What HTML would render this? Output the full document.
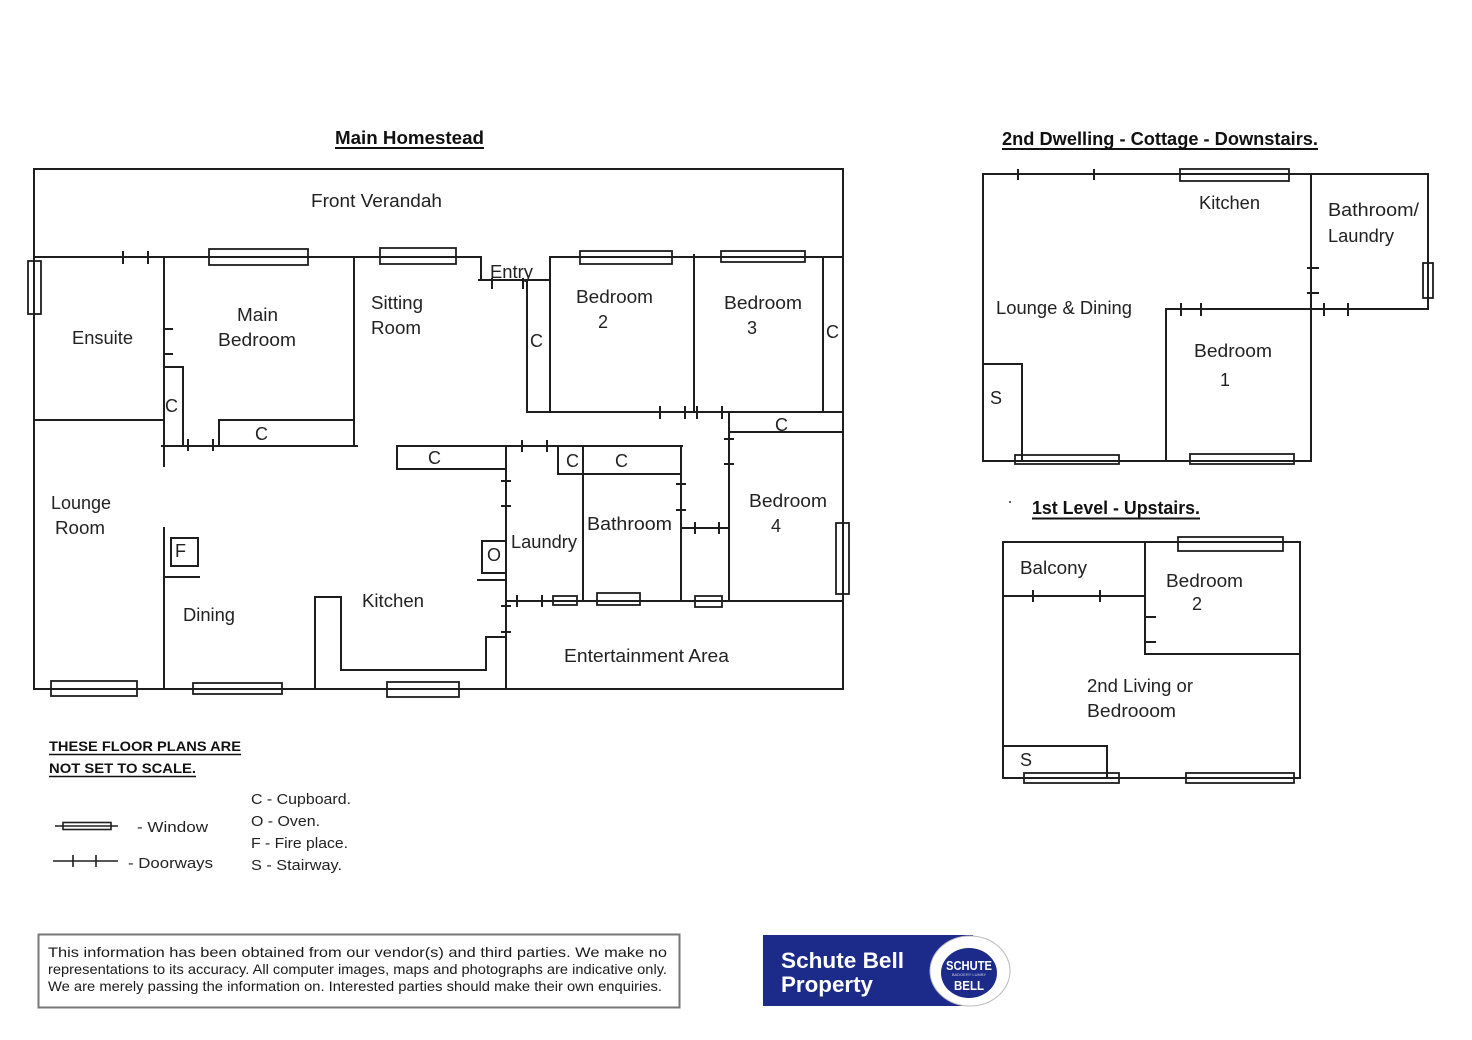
<!DOCTYPE html>
<html>
<head>
<meta charset="utf-8">
<style>
html,body{margin:0;padding:0;background:#fff;}
svg{display:block;}
.l{font-family:"Liberation Sans",sans-serif;font-size:18px;fill:#222;}
.b{font-family:"Liberation Sans",sans-serif;font-weight:bold;fill:#111;}
.s{font-family:"Liberation Sans",sans-serif;font-size:15px;fill:#222;}
.f{font-family:"Liberation Sans",sans-serif;font-size:14px;fill:#1a1a1a;}
</style>
</head>
<body>
<svg width="1472" height="1040" viewBox="0 0 1472 1040" xmlns="http://www.w3.org/2000/svg">
<rect width="1472" height="1040" fill="#fff"/>

<!-- ============ MAIN HOMESTEAD ============ -->
<text class="b" x="335" y="144" font-size="18" textLength="149" lengthAdjust="spacingAndGlyphs">Main Homestead</text>
<line x1="335" y1="148" x2="484" y2="148" stroke="#111" stroke-width="2"/>

<g stroke="#1e1e1e" stroke-width="2" fill="none" stroke-linecap="square">
  <rect x="34" y="169" width="809" height="520"/>
  <line x1="34" y1="257" x2="481" y2="257"/>
  <polyline points="481,257 481,280"/>
  <line x1="479" y1="280" x2="550" y2="280"/>
  <line x1="550" y1="257" x2="843" y2="257"/>
  <line x1="550" y1="257" x2="550" y2="412"/>
  <line x1="164" y1="257" x2="164" y2="466"/>
  <line x1="164" y1="528" x2="164" y2="689"/>
  <line x1="34" y1="420" x2="164" y2="420"/>
  <line x1="164" y1="329" x2="172" y2="329"/>
  <line x1="164" y1="354" x2="172" y2="354"/>
  <polyline points="164,367 183,367 183,446"/>
  <line x1="162" y1="446" x2="357" y2="446"/>
  <polyline points="219,446 219,420 354,420"/>
  <line x1="354" y1="257" x2="354" y2="446"/>
  <rect x="171" y="538" width="27" height="28"/>
  <line x1="164" y1="577" x2="199" y2="577"/>
  <line x1="397" y1="446" x2="682" y2="446"/>
  <polyline points="397,446 397,469 506,469"/>
  <line x1="506" y1="446" x2="506" y2="689"/>
  <rect x="482" y="541" width="24" height="32"/>
  <line x1="478" y1="580" x2="506" y2="580"/>
  <polyline points="315,689 315,597 341,597 341,670 486,670 486,637 506,637"/>
  <line x1="527" y1="280" x2="527" y2="412"/>
  <line x1="527" y1="412" x2="843" y2="412"/>
  <line x1="694" y1="255" x2="694" y2="412"/>
  <line x1="823" y1="257" x2="823" y2="412"/>
  <line x1="729" y1="412" x2="729" y2="601"/>
  <line x1="729" y1="432" x2="843" y2="432"/>
  <line x1="558" y1="446" x2="558" y2="474"/>
  <line x1="558" y1="474" x2="681" y2="474"/>
  <line x1="583" y1="446" x2="583" y2="601"/>
  <line x1="681" y1="446" x2="681" y2="601"/>
  <line x1="681" y1="528" x2="729" y2="528"/>
  <line x1="506" y1="601" x2="843" y2="601"/>
</g>

<g stroke="#1e1e1e" stroke-width="2">
  <line x1="123" y1="251" x2="123" y2="264"/>
  <line x1="148" y1="251" x2="148" y2="264"/>
  <line x1="492" y1="278" x2="492" y2="289"/>
  <line x1="523" y1="278" x2="523" y2="289"/>
  <line x1="188" y1="439" x2="188" y2="451"/>
  <line x1="213" y1="439" x2="213" y2="451"/>
  <line x1="660" y1="406" x2="660" y2="419"/>
  <line x1="685" y1="406" x2="685" y2="419"/>
  <line x1="697" y1="406" x2="697" y2="419"/>
  <line x1="722" y1="406" x2="722" y2="419"/>
  <line x1="724" y1="439" x2="734" y2="439"/>
  <line x1="724" y1="464" x2="734" y2="464"/>
  <line x1="522" y1="440" x2="522" y2="452"/>
  <line x1="547" y1="440" x2="547" y2="452"/>
  <line x1="676" y1="484" x2="686" y2="484"/>
  <line x1="676" y1="510" x2="686" y2="510"/>
  <line x1="695" y1="522" x2="695" y2="534"/>
  <line x1="719" y1="522" x2="719" y2="534"/>
  <line x1="501" y1="481" x2="511" y2="481"/>
  <line x1="501" y1="506" x2="511" y2="506"/>
  <line x1="501" y1="606" x2="511" y2="606"/>
  <line x1="501" y1="632" x2="511" y2="632"/>
  <line x1="517" y1="595" x2="517" y2="607"/>
  <line x1="542" y1="595" x2="542" y2="607"/>
</g>

<g stroke="#1e1e1e" stroke-width="1.8" fill="none">
  <rect x="28" y="261" width="13" height="53"/>
  <rect x="209" y="249" width="99" height="16"/>
  <rect x="380" y="248" width="76" height="16"/>
  <rect x="580" y="251" width="92" height="13"/>
  <rect x="721" y="251" width="84" height="11"/>
  <rect x="836" y="523" width="13" height="71"/>
  <rect x="553" y="596" width="24" height="9"/>
  <rect x="597" y="593" width="43" height="12"/>
  <rect x="695" y="596" width="27" height="11"/>
  <rect x="51" y="681" width="86" height="15"/>
  <rect x="193" y="683" width="89" height="11"/>
  <rect x="387" y="682" width="72" height="15"/>
</g>

<text class="l" x="311" y="207" textLength="131" lengthAdjust="spacingAndGlyphs">Front Verandah</text>
<text class="l" x="72" y="344" textLength="61" lengthAdjust="spacingAndGlyphs">Ensuite</text>
<text class="l" x="237" y="321" textLength="41" lengthAdjust="spacingAndGlyphs">Main</text>
<text class="l" x="218" y="346" textLength="78" lengthAdjust="spacingAndGlyphs">Bedroom</text>
<text class="l" x="371" y="309" textLength="52" lengthAdjust="spacingAndGlyphs">Sitting</text>
<text class="l" x="371" y="334" textLength="50" lengthAdjust="spacingAndGlyphs">Room</text>
<text class="l" x="490" y="278" textLength="43" lengthAdjust="spacingAndGlyphs">Entry</text>
<text class="l" x="576" y="303" textLength="77" lengthAdjust="spacingAndGlyphs">Bedroom</text>
<text class="l" x="598" y="328">2</text>
<text class="l" x="724" y="309" textLength="78" lengthAdjust="spacingAndGlyphs">Bedroom</text>
<text class="l" x="747" y="334">3</text>
<text class="l" x="826" y="338">C</text>
<text class="l" x="530" y="347">C</text>
<text class="l" x="775" y="431">C</text>
<text class="l" x="165" y="412">C</text>
<text class="l" x="255" y="440">C</text>
<text class="l" x="428" y="464">C</text>
<text class="l" x="566" y="467">C</text>
<text class="l" x="615" y="467">C</text>
<text class="l" x="51" y="509" textLength="60" lengthAdjust="spacingAndGlyphs">Lounge</text>
<text class="l" x="55" y="534" textLength="50" lengthAdjust="spacingAndGlyphs">Room</text>
<text class="l" x="175" y="557">F</text>
<text class="l" x="183" y="621" textLength="52" lengthAdjust="spacingAndGlyphs">Dining</text>
<text class="l" x="362" y="607" textLength="62" lengthAdjust="spacingAndGlyphs">Kitchen</text>
<text class="l" x="487" y="561">O</text>
<text class="l" x="511" y="548" textLength="66" lengthAdjust="spacingAndGlyphs">Laundry</text>
<text class="l" x="587" y="530" textLength="85" lengthAdjust="spacingAndGlyphs">Bathroom</text>
<text class="l" x="749" y="507" textLength="78" lengthAdjust="spacingAndGlyphs">Bedroom</text>
<text class="l" x="771" y="532">4</text>
<text class="l" x="564" y="662" textLength="165" lengthAdjust="spacingAndGlyphs">Entertainment Area</text>

<!-- ============ COTTAGE DOWNSTAIRS ============ -->
<text class="b" x="1002" y="145" font-size="18" textLength="316" lengthAdjust="spacingAndGlyphs">2nd Dwelling - Cottage - Downstairs.</text>
<line x1="1002" y1="149" x2="1318" y2="149" stroke="#111" stroke-width="2"/>

<g stroke="#1e1e1e" stroke-width="2" fill="none" stroke-linecap="square">
  <line x1="983" y1="174" x2="1428" y2="174"/>
  <line x1="1428" y1="174" x2="1428" y2="309"/>
  <line x1="1166" y1="309" x2="1428" y2="309"/>
  <line x1="1311" y1="174" x2="1311" y2="461"/>
  <line x1="983" y1="461" x2="1311" y2="461"/>
  <line x1="983" y1="174" x2="983" y2="461"/>
  <line x1="1166" y1="309" x2="1166" y2="461"/>
  <polyline points="983,364 1022,364 1022,461"/>
</g>
<g stroke="#1e1e1e" stroke-width="2">
  <line x1="1018" y1="169" x2="1018" y2="180"/>
  <line x1="1094" y1="169" x2="1094" y2="180"/>
  <line x1="1307" y1="268" x2="1319" y2="268"/>
  <line x1="1307" y1="293" x2="1319" y2="293"/>
  <line x1="1181" y1="303" x2="1181" y2="316"/>
  <line x1="1201" y1="303" x2="1201" y2="316"/>
  <line x1="1324" y1="303" x2="1324" y2="316"/>
  <line x1="1348" y1="303" x2="1348" y2="316"/>
</g>
<g stroke="#1e1e1e" stroke-width="1.8" fill="none">
  <rect x="1180" y="169" width="109" height="12"/>
  <rect x="1423" y="263" width="10" height="35"/>
  <rect x="1015" y="455" width="104" height="9"/>
  <rect x="1190" y="454" width="104" height="10"/>
</g>
<text class="l" x="1199" y="209" textLength="61" lengthAdjust="spacingAndGlyphs">Kitchen</text>
<text class="l" x="1328" y="216" textLength="91" lengthAdjust="spacingAndGlyphs">Bathroom/</text>
<text class="l" x="1328" y="242" textLength="66" lengthAdjust="spacingAndGlyphs">Laundry</text>
<text class="l" x="996" y="314" textLength="136" lengthAdjust="spacingAndGlyphs">Lounge &amp; Dining</text>
<text class="l" x="1194" y="357" textLength="78" lengthAdjust="spacingAndGlyphs">Bedroom</text>
<text class="l" x="1220" y="386">1</text>
<text class="l" x="990" y="404">S</text>

<!-- ============ UPSTAIRS ============ -->
<circle cx="1010" cy="502" r="1" fill="#333"/>
<text class="b" x="1032" y="514" font-size="18" textLength="168" lengthAdjust="spacingAndGlyphs">1st Level - Upstairs.</text>
<line x1="1032" y1="518.5" x2="1200" y2="518.5" stroke="#111" stroke-width="2"/>

<g stroke="#1e1e1e" stroke-width="2" fill="none" stroke-linecap="square">
  <rect x="1003" y="542" width="297" height="236"/>
  <line x1="1145" y1="542" x2="1145" y2="654"/>
  <line x1="1145" y1="654" x2="1300" y2="654"/>
  <line x1="1003" y1="596" x2="1145" y2="596"/>
  <line x1="1145" y1="617" x2="1155" y2="617"/>
  <line x1="1145" y1="642" x2="1155" y2="642"/>
  <polyline points="1003,746 1107,746 1107,778"/>
</g>
<g stroke="#1e1e1e" stroke-width="2">
  <line x1="1033" y1="590" x2="1033" y2="602"/>
  <line x1="1100" y1="590" x2="1100" y2="602"/>
</g>
<g stroke="#1e1e1e" stroke-width="1.8" fill="none">
  <rect x="1178" y="537" width="105" height="14"/>
  <rect x="1024" y="773" width="95" height="10"/>
  <rect x="1186" y="773" width="108" height="10"/>
</g>
<text class="l" x="1020" y="574" textLength="67" lengthAdjust="spacingAndGlyphs">Balcony</text>
<text class="l" x="1166" y="587" textLength="77" lengthAdjust="spacingAndGlyphs">Bedroom</text>
<text class="l" x="1192" y="610">2</text>
<text class="l" x="1087" y="692" textLength="106" lengthAdjust="spacingAndGlyphs">2nd Living or</text>
<text class="l" x="1087" y="717" textLength="89" lengthAdjust="spacingAndGlyphs">Bedrooom</text>
<text class="l" x="1020" y="766">S</text>

<!-- ============ LEGEND ============ -->
<text class="b" x="49" y="751" font-size="14" textLength="192" lengthAdjust="spacingAndGlyphs">THESE FLOOR PLANS ARE</text>
<line x1="49" y1="754.5" x2="241" y2="754.5" stroke="#111" stroke-width="1.6"/>
<text class="b" x="49" y="773" font-size="14" textLength="147" lengthAdjust="spacingAndGlyphs">NOT SET TO SCALE.</text>
<line x1="49" y1="776.5" x2="196" y2="776.5" stroke="#111" stroke-width="1.6"/>

<g stroke="#1e1e1e" stroke-width="1.6" fill="none">
  <line x1="55" y1="826" x2="118" y2="826"/>
  <rect x="63" y="822.5" width="48" height="7"/>
  <line x1="53" y1="861" x2="118" y2="861"/>
  <line x1="73" y1="855" x2="73" y2="867"/>
  <line x1="96" y1="855" x2="96" y2="867"/>
</g>
<text class="s" x="137" y="832" textLength="71" lengthAdjust="spacingAndGlyphs">- Window</text>
<text class="s" x="128" y="868" textLength="85" lengthAdjust="spacingAndGlyphs">- Doorways</text>
<text class="s" x="251" y="804" textLength="100" lengthAdjust="spacingAndGlyphs">C - Cupboard.</text>
<text class="s" x="251" y="826" textLength="69" lengthAdjust="spacingAndGlyphs">O - Oven.</text>
<text class="s" x="251" y="848" textLength="97" lengthAdjust="spacingAndGlyphs">F - Fire place.</text>
<text class="s" x="251" y="870" textLength="91" lengthAdjust="spacingAndGlyphs">S - Stairway.</text>

<!-- ============ FOOTER ============ -->
<rect x="38.5" y="934.5" width="641" height="73" fill="none" stroke="#777" stroke-width="2"/>
<text class="f" x="48" y="957" textLength="619" lengthAdjust="spacingAndGlyphs">This information has been obtained from our vendor(s) and third parties. We make no</text>
<text class="f" x="48" y="974" textLength="619" lengthAdjust="spacingAndGlyphs">representations to its accuracy. All computer images, maps and photographs are indicative only.</text>
<text class="f" x="48" y="991" textLength="614" lengthAdjust="spacingAndGlyphs">We are merely passing the information on. Interested parties should make their own enquiries.</text>

<!-- ============ LOGO ============ -->
<rect x="763" y="935" width="210" height="71" fill="#1c2b8a"/>
<text x="781" y="968" font-family="Liberation Sans, sans-serif" font-weight="bold" font-size="22" fill="#fff" textLength="123" lengthAdjust="spacingAndGlyphs">Schute Bell</text>
<text x="781" y="992" font-family="Liberation Sans, sans-serif" font-weight="bold" font-size="22" fill="#fff" textLength="92" lengthAdjust="spacingAndGlyphs">Property</text>
<ellipse cx="970" cy="971" rx="40" ry="35" fill="#fff" stroke="#bbb" stroke-width="1"/>
<ellipse cx="969" cy="973" rx="28" ry="25" fill="#1c2b8a"/>
<text x="969" y="970" text-anchor="middle" font-family="Liberation Sans, sans-serif" font-weight="bold" font-size="13" fill="#fff" textLength="46" lengthAdjust="spacingAndGlyphs">SCHUTE</text>
<text x="969" y="976" text-anchor="middle" font-family="Liberation Sans, sans-serif" font-size="4" fill="#ccd">BADGERY LUMBY</text>
<text x="969" y="990" text-anchor="middle" font-family="Liberation Sans, sans-serif" font-weight="bold" font-size="13" fill="#fff" textLength="30" lengthAdjust="spacingAndGlyphs">BELL</text>
</svg>
</body>
</html>
